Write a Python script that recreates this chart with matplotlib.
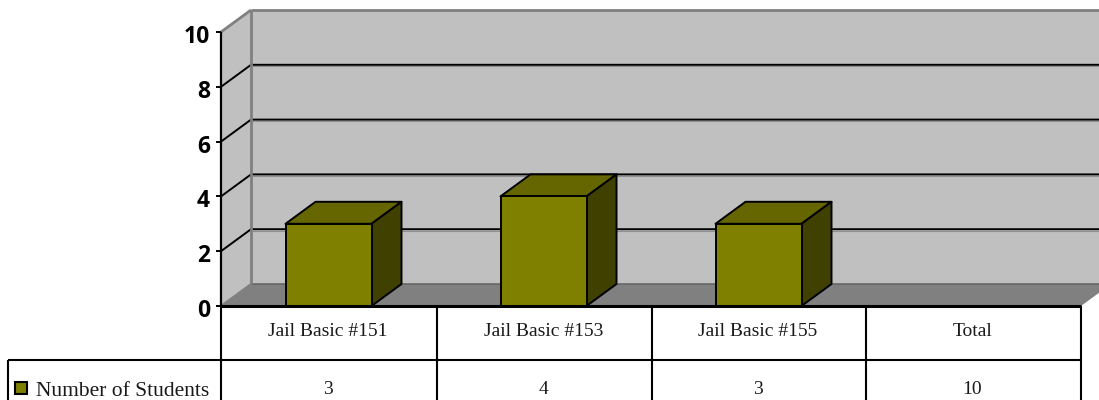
import matplotlib
matplotlib.use('Agg')
import matplotlib.pyplot as plt
from matplotlib.patches import Polygon, Rectangle

categories = ['Jail Basic #151', 'Jail Basic #153', 'Jail Basic #155', 'Total']
students = [3, 4, 3, 10]
drawn = [3, 4, 3]          # the Total column has no bar in the original
yticks = [0, 2, 4, 6, 8, 10]
series_name = 'Number of Students'

W, H = 1099, 400
L, R, B, T = 221, 1081, 306, 32     # plot box in pixels
serif = 'Liberation Serif'

fig = plt.figure(figsize=(W / 100, H / 100), dpi=100)
ax = fig.add_axes([L / W, 1 - B / H, (R - L) / W, (B - T) / H])
ax.set_xlim(0, len(categories))
ax.set_ylim(0, 10)
ax.axis('off')

# depth of the fake 3d, in data units
dx = 30 / ((R - L) / len(categories))
dy = 22 / ((B - T) / 10)
xmax = len(categories)


def poly(pts, fc, ec='none', lw=0, z=1):
    ax.add_patch(Polygon(pts, closed=True, fc=fc, ec=ec, lw=lw, zorder=z, clip_on=False, joinstyle='round'))


def line(xs, ys, c='black', lw=1.5, z=3):
    ax.plot(xs, ys, color=c, lw=lw, zorder=z, clip_on=False, solid_capstyle='butt')


# walls and floor
poly([(dx, dy), (xmax + dx, dy), (xmax + dx, 10 + dy), (dx, 10 + dy)], '#c0c0c0')
poly([(0, 0), (dx, dy), (dx, 10 + dy), (0, 10)], '#c0c0c0')
poly([(0, 0), (xmax, 0), (xmax + dx, dy), (dx, dy)], '#808080')

for v in yticks[1:-1]:
    line([dx, xmax + dx], [v + dy - 0.05] * 2, c='#909090', lw=0.8, z=2)
    line([0, dx, xmax + dx], [v, v + dy, v + dy], lw=1.4, z=2)
line([dx, xmax + dx], [dy, dy], c='#666666', lw=1.2, z=2)
line([dx, xmax + dx], [10 + dy, 10 + dy], c='#808080', lw=2)
line([dx, dx], [dy, 10 + dy], c='#808080', lw=2)
line([0, dx], [10, 10 + dy], c='#808080', lw=2)
line([0, dx], [0, dy], c='#808080', lw=1.5)

# bars
bw = 86 / ((R - L) / len(categories))
for i, v in enumerate(drawn):
    x0 = i + 0.5 - bw / 2
    x1 = i + 0.5 + bw / 2
    poly([(x0, v), (x1, v), (x1 + dx, v + dy), (x0 + dx, v + dy)], '#666600', 'black', 1.4, 4)
    poly([(x1, 0), (x1 + dx, dy), (x1 + dx, v + dy), (x1, v)], '#404000', 'black', 1.4, 4)
    poly([(x0, 0), (x1, 0), (x1, v), (x0, v)], '#808000', 'black', 1.4, 5)

# y axis
px_x = (R - L) / len(categories)
px_y = (B - T) / 10
line([0, 0], [0, 10], lw=1.6, z=6)
for v in yticks:
    line([-5 / px_x, 0], [v, v], lw=1.4, z=6)
    ax.text(-11 / px_x, v - 2 / px_y, str(v), ha='right', va='center_baseline', family='Open Sans',
            fontweight='bold', fontsize=16.5, color='black', clip_on=False)

# data table, pixel coordinates on a full figure axes
tb = fig.add_axes([0, 0, 1, 1])
tb.set_xlim(0, W)
tb.set_ylim(H, 0)
tb.axis('off')
tb.patch.set_alpha(0)
cols = [221, 437, 652, 866, 1081]
tb.plot([L, R], [306, 306], color='black', lw=2.2, solid_capstyle='butt')
tb.plot([8, R], [360, 360], color='black', lw=1.5, solid_capstyle='butt')
tb.plot([8, 8], [360, H], color='black', lw=1.5, solid_capstyle='butt')
for c in cols:
    tb.plot([c, c], [306, H], color='black', lw=1.5, solid_capstyle='butt')
for i, name in enumerate(categories):
    cx = (cols[i] + cols[i + 1]) / 2 - 1
    tb.text(cx, 332, name, ha='center', va='center', family=serif, fontsize=14, color='#1a1a1a')
    tb.text(cx, 390, str(students[i]), ha='center', va='center', family=serif, fontsize=14, color='#1a1a1a')
tb.add_patch(Rectangle((15, 382), 12, 12, fc='#808000', ec='black', lw=1.5))
tb.text(36, 391, series_name, ha='left', va='center', family=serif, fontsize=15.5, color='#1a1a1a')

fig.savefig('out.png', dpi=100)
